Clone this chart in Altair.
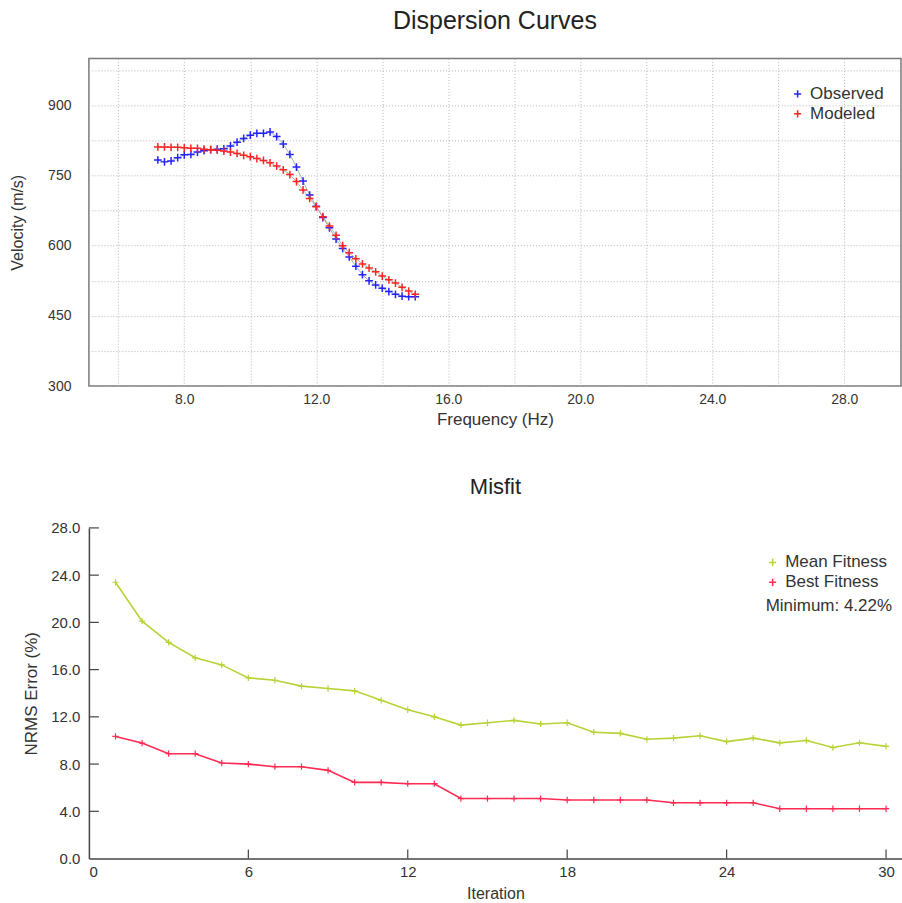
import altair as alt
import pandas as pd

# ---------------- data: dispersion curves ----------------
freq = [7.2, 7.4, 7.6, 7.8, 8.0, 8.2, 8.4, 8.6, 8.8, 9.0,
        9.2, 9.4, 9.6, 9.8, 10.0, 10.2, 10.4, 10.6, 10.8, 11.0,
        11.2, 11.4, 11.6, 11.8, 12.0, 12.2, 12.4, 12.6, 12.8, 13.0,
        13.2, 13.4, 13.6, 13.8, 14.0, 14.2, 14.4, 14.6, 14.8, 15.0]
observed = [783, 779, 781, 788, 794, 795, 800, 803, 805, 806,
            807, 813, 821, 829, 836, 840, 840, 843, 833, 817,
            795, 768, 738, 708, 684, 660, 638, 614, 594, 576,
            556, 538, 525, 516, 509, 502, 496, 492, 491, 491]
modeled = [811, 811, 810, 810, 809, 808, 808, 806, 805, 804,
           802, 800, 797, 793, 790, 786, 782, 777, 770, 762,
           752, 737, 719, 701, 683, 662, 642, 622, 600, 585,
           572, 561, 552, 544, 535, 527, 520, 511, 503, 496]
disp_series = ["Observed", "Modeled"]
disp_colors = ["#2323ff", "#ff2323"]

# ---------------- data: misfit ----------------
iterations = [1, 2, 3, 4, 5, 6, 7, 8, 9, 10, 11, 12, 13, 14, 15,
              16, 17, 18, 19, 20, 21, 22, 23, 24, 25, 26, 27, 28, 29, 30]
mean_fitness = [23.4, 20.1, 18.3, 17.0, 16.4, 15.3, 15.1, 14.6, 14.4, 14.2,
                13.4, 12.6, 12.0, 11.3, 11.5, 11.7, 11.4, 11.5, 10.7, 10.6,
                10.1, 10.2, 10.4, 9.9, 10.2, 9.8, 10.0, 9.4, 9.8, 9.5]
best_fitness = [10.34, 9.78, 8.88, 8.88, 8.09, 8.0, 7.78, 7.78, 7.47, 6.45,
                6.45, 6.34, 6.34, 5.08, 5.08, 5.08, 5.08, 4.96, 4.96, 4.96,
                4.96, 4.72, 4.72, 4.72, 4.72, 4.22, 4.22, 4.22, 4.22, 4.22]
fit_series = ["Mean Fitness", "Best Fitness"]
fit_colors = ["#b6d337", "#ff2b52"]

freq_ticks = [6, 8, 10, 12, 14, 16, 18, 20, 22, 24, 26, 28]
vel_ticks = [300, 375, 450, 525, 600, 675, 750, 825, 900, 975]
iter_ticks = [0, 6, 12, 18, 24, 30]
err_ticks = [0, 4, 8, 12, 16, 20, 24, 28]

PLUS = "M-1,0L1,0M0,-1L0,1"
FONT = "Liberation Sans"

disp = pd.DataFrame({
    "Frequency": freq + freq,
    "Velocity": observed + modeled,
    "Curve": ["Observed"] * len(freq) + ["Modeled"] * len(freq),
})
fit = pd.DataFrame({
    "Iteration": iterations + iterations,
    "Error": mean_fitness + best_fitness,
    "Fitness": ["Mean Fitness"] * len(iterations) + ["Best Fitness"] * len(iterations),
})

# ---------------- top chart ----------------
TW, TH = 813, 328
fx = alt.X("Frequency:Q", scale=alt.Scale(domain=[5.11, 29.72], nice=False, zero=False),
           axis=alt.Axis(values=freq_ticks, title="Frequency (Hz)", ticks=False, domain=False,
                         grid=True, gridDash=[1, 2], gridColor="#b5b5b5", gridWidth=1,
                         labelExpr="datum.value % 4 == 0 ? format(datum.value, '.1f') : ''",
                         labelFontSize=14, titleFontSize=17,
                         labelPadding=6, titlePadding=5))
fy = alt.Y("Velocity:Q", scale=alt.Scale(domain=[300, 1000], nice=False, zero=False),
           axis=alt.Axis(values=vel_ticks, title="Velocity (m/s)", ticks=False, domain=False,
                         grid=True, gridDash=[1, 2], gridColor="#b5b5b5", gridWidth=1,
                         labelExpr="datum.value % 150 == 0 ? datum.label : ''",
                         labelFontSize=14, titleFontSize=16,
                         labelPadding=18, titlePadding=22))
dcolor = alt.Color("Curve:N", scale=alt.Scale(domain=disp_series, range=disp_colors),
                   legend=alt.Legend(title=None, orient="none", legendX=701, legendY=27,
                                     symbolType=PLUS, symbolSize=50, symbolStrokeWidth=1.5,
                                     labelFontSize=17, labelFont=FONT, labelColor="#333",
                                     rowPadding=2, padding=0, labelOffset=4))

top_lines = alt.Chart(disp).mark_line(color="#8d9c96", strokeWidth=1, opacity=0.8).encode(
    x=fx, y=fy, detail="Curve:N")
top_pts = alt.Chart(disp).mark_point(shape=PLUS, filled=False, size=60, strokeWidth=1.5, opacity=1).encode(
    x=fx, y=fy, color=dcolor)

top = alt.layer(top_lines, top_pts).properties(
    width=TW, height=TH,
    title=alt.TitleParams("Dispersion Curves", fontSize=25, font=FONT, fontWeight="normal",
                          color="#222", offset=24),
    view=alt.ViewBackground(stroke="#7a7a7a", strokeWidth=1.5),
)

# ---------------- bottom chart ----------------
BW, BH = 814, 331
bx = alt.X("Iteration:Q", scale=alt.Scale(domain=[0, 30.6], nice=False, zero=False),
           axis=alt.Axis(values=iter_ticks, format="d", title="Iteration", ticks=False,
                         grid=False, domainColor="#444", domainWidth=1.5,
                         labelFontSize=15, titleFontSize=16,
                         labelPadding=6, titlePadding=6))
by = alt.Y("Error:Q", scale=alt.Scale(domain=[0, 28], nice=False, zero=False),
           axis=alt.Axis(values=err_ticks, format=".1f", title="NRMS Error (%)", ticks=False,
                         grid=False, domainColor="#444", domainWidth=1.5,
                         labelFontSize=15, titleFontSize=17,
                         labelPadding=9, titlePadding=10))
bcolor = alt.Color("Fitness:N", scale=alt.Scale(domain=fit_series, range=fit_colors),
                   legend=alt.Legend(title=None, orient="none", legendX=676, legendY=26,
                                     symbolType=PLUS, symbolSize=50, symbolStrokeWidth=1.5,
                                     labelFontSize=17, labelFont=FONT, labelColor="#333",
                                     rowPadding=2, padding=0, labelOffset=4))

bot_lines = alt.Chart(fit).mark_line(strokeWidth=1.6).encode(x=bx, y=by, color=bcolor)
bot_pts = alt.Chart(fit).mark_point(shape=PLUS, filled=False, size=40, strokeWidth=1.2, opacity=1).encode(
    x=bx, y=by, color=bcolor)

# inward tick marks on both axes, placed through the same scales
ytick_df = pd.DataFrame({"Error": err_ticks[1:]})
xtick_df = pd.DataFrame({"Iteration": iter_ticks[1:]})
yticks = alt.Chart(ytick_df).mark_rule(color="#444", strokeWidth=1.2).encode(
    y=by, x=alt.value(0), x2=alt.value(10))
xticks = alt.Chart(xtick_df).mark_rule(color="#444", strokeWidth=1.2).encode(
    x=bx, y=alt.value(BH - 9), y2=alt.value(BH))

min_df = pd.DataFrame({"label": [f"Minimum: {min(best_fitness):.2f}%"]})
min_text = alt.Chart(min_df).mark_text(align="right", baseline="middle", fontSize=17, font=FONT,
                                       color="#333").encode(
    text="label:N", x=alt.value(804), y=alt.value(78))

bottom = alt.layer(bot_lines, bot_pts, yticks, xticks, min_text).properties(
    width=BW, height=BH,
    title=alt.TitleParams("Misfit", fontSize=22, font=FONT, fontWeight="normal",
                          color="#222", offset=22),
    view=alt.ViewBackground(strokeOpacity=0),
)

chart = alt.vconcat(top, bottom, spacing=48).resolve_scale(color="independent").properties(
    padding={"top": 8, "left": 8, "right": 0, "bottom": 0},
    background="white",
).configure_axis(
    labelFont=FONT, titleFont=FONT, labelFontSize=15, titleFontSize=15,
    labelColor="#333", titleColor="#333", titleFontWeight="normal",
).configure_concat(spacing=48)

chart.save("out.html", embed_options={"renderer": "svg", "actions": False})
